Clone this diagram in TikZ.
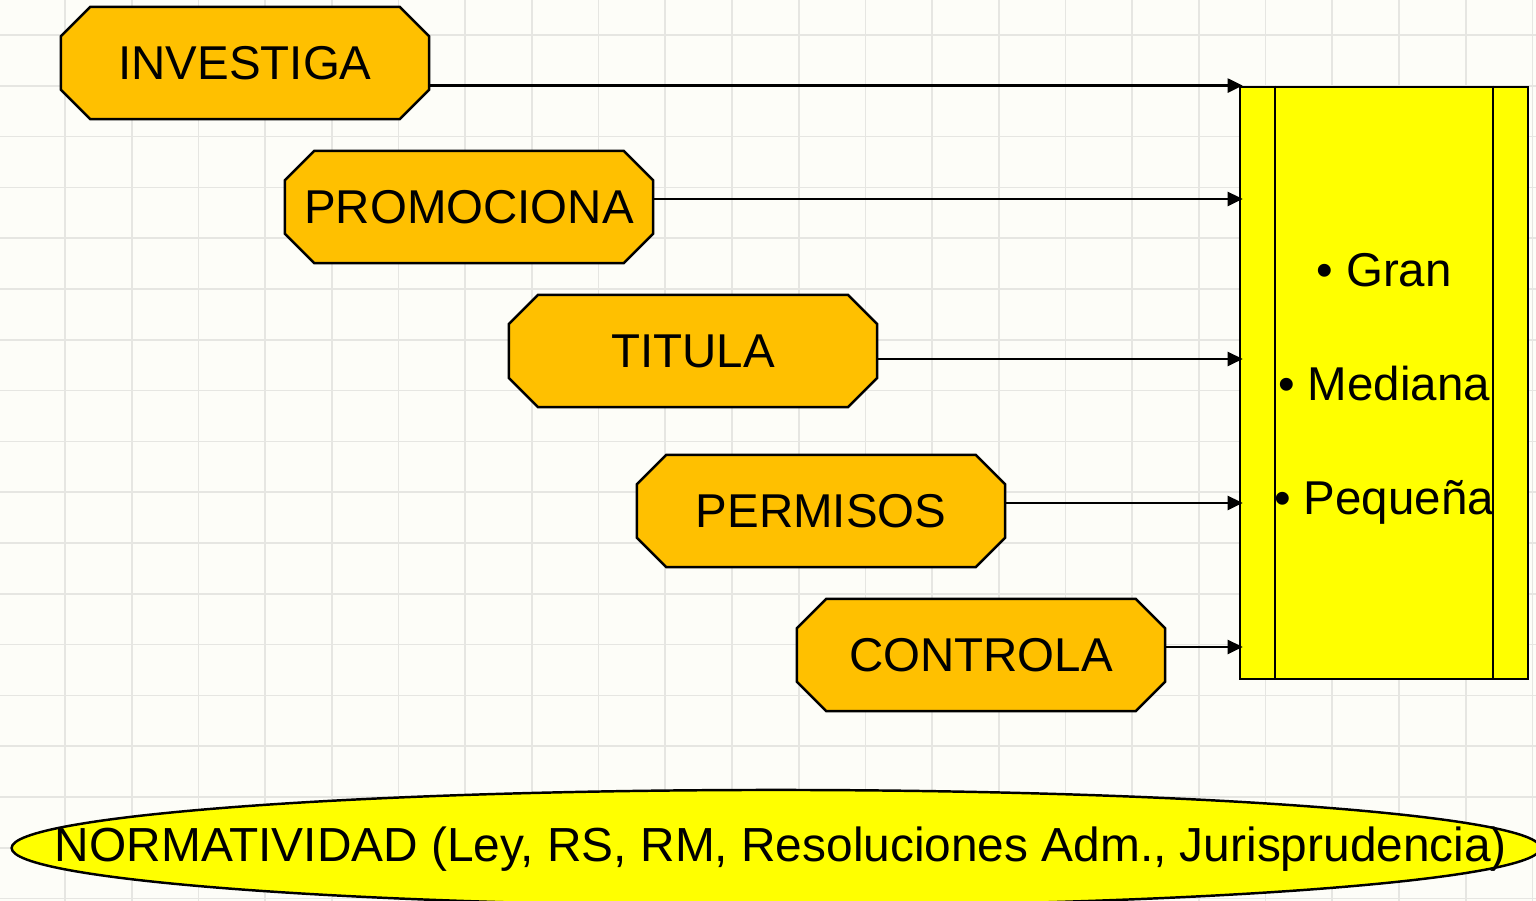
\documentclass[tikz,border=0pt]{standalone}
\usepackage{fontspec}
\setmainfont{Liberation Sans}
\usepackage{xcolor}
\usetikzlibrary{
arrows.meta,
shapes.misc
}

\definecolor{paper}{HTML}{FDFDF8}
\definecolor{gridline}{HTML}{E6E6E2}
\definecolor{actorange}{HTML}{FFC000}
\definecolor{empyellow}{HTML}{FFFF00}

\begin{document}
\begin{tikzpicture}[
x=0.01cm,y=-0.01cm,
box/.style={
draw,
line width=0.7pt,
fill=actorange,
chamfered rectangle,
chamfered rectangle xsep=0.32cm,
minimum width=3.68cm,
minimum height=1.12cm,
inner sep=0pt,
font=\fontsize{13.5}{16}\selectfont
},
item/.style={
anchor=base,
inner sep=0pt,
font=\fontsize{13.5}{16}\selectfont
},
arrow/.style={-{Triangle[length=0.15cm,width=0.14cm]},line width=0.7pt,shorten >=-0.04cm}
]

\useasboundingbox (0,0) rectangle (1536,901);
\clip (0,0) rectangle (1536,901);
\fill[paper] (0,0) rectangle (1536,901);
\foreach \gx in {-1,...,23}
  \draw[gridline,line width=0.5pt] ({65+66.7*\gx},0) -- ++(0,901);
\foreach \gy in {-1,...,17}
  \draw[gridline,line width=0.5pt] (0,{35+50.8*\gy}) -- ++(1536,0);

\node[box] (investiga) at (245,63) {INVESTIGA};
\node[box] (promociona) at (469,207) {PROMOCIONA};
\node[box] (titula) at (693,351) {TITULA};
\node[box] (permisos) at (821,511) {PERMISOS};
\node[box] (controla) at (981,655) {CONTROLA};

\node[draw,line width=0.7pt,fill=empyellow,
minimum width=2.88cm,minimum height=5.92cm] (empresa) at (1384,383) {};
\draw[line width=0.6pt] ([xshift=0.36cm]empresa.north west) -- ([xshift=0.36cm]empresa.south west);
\draw[line width=0.6pt] ([xshift=-0.36cm]empresa.north east) -- ([xshift=-0.36cm]empresa.south east);

\node[item] (gran) at (1384,287) {\textbullet\ Gran};
\node[item] (mediana) at (1384,401) {\textbullet\ Mediana};
\node[item] (pequena) at (1384,515) {\textbullet\ Pequeña};

% normatividad band
\draw[line width=0.7pt,fill=empyellow] (776,848) ellipse [x radius=7.64cm,y radius=0.58cm];
\node[inner sep=0pt,font=\fontsize{13.6}{16}\selectfont] (normatividad) at (781,849)
{NORMATIVIDAD (Ley, RS, RM, Resoluciones Adm., Jurisprudencia)};

\draw[arrow] (investiga.east |- empresa.north) -- (empresa.north west);
\draw[arrow] ([yshift=0.08cm]promociona.east) -- ([yshift=0.08cm]promociona.east -| empresa.west);
\draw[arrow] ([yshift=-0.08cm]titula.east) -- ([yshift=-0.08cm]titula.east -| empresa.west);
\draw[arrow] ([yshift=0.08cm]permisos.east) -- ([yshift=0.08cm]permisos.east -| empresa.west);
\draw[arrow] ([yshift=0.08cm]controla.east) -- ([yshift=0.08cm]controla.east -| empresa.west);

\end{tikzpicture}
\end{document}
